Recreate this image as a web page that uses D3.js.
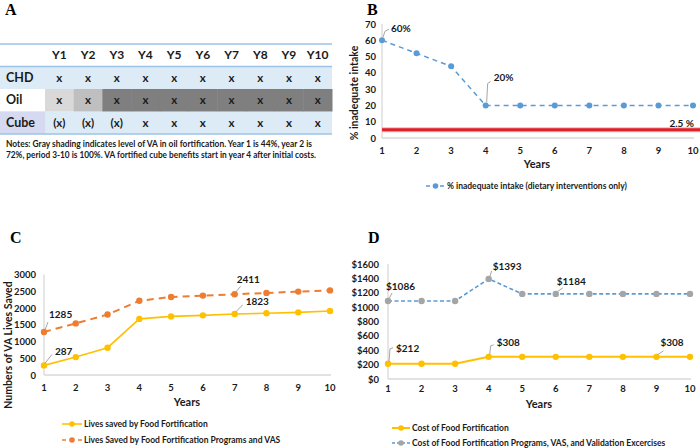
<!DOCTYPE html>
<html><head><meta charset="utf-8">
<script src="https://cdn.jsdelivr.net/npm/d3@7"></script>
<style>
body{margin:0;background:#fff}
svg{display:block;font-family:Lato,"Open Sans",sans-serif;font-weight:bold}
</style>
</head><body>
<svg id="c" width="700" height="448"></svg>
<script>
// ---------- DATA ----------
const years = [1,2,3,4,5,6,7,8,9,10];
const tableCols = ["Y1","Y2","Y3","Y4","Y5","Y6","Y7","Y8","Y9","Y10"];
const tableRows = ["CHD","Oil","Cube"];
const chdMarks  = ["x","x","x","x","x","x","x","x","x","x"];
const oilMarks  = ["x","x","x","x","x","x","x","x","x","x"];
const cubeMarks = ["(x)","(x)","(x)","x","x","x","x","x","x","x"];
const oilVAPct  = [44,72,100,100,100,100,100,100,100,100];
const notesLines = [
  "Notes: Gray shading indicates level of VA in oil fortification. Year 1 is 44%, year 2 is",
  "72%, period 3-10  is 100%. VA fortified cube benefits start in year 4 after initial costs."
];

const inadequateIntake = [60,52,44,20,20,20,20,20,20,20];
const thresholdValue = 5;
const thresholdLabel = "2.5 %";
const bTicks = [0,10,20,30,40,50,60,70];

const livesFF  = [287,535,815,1675,1750,1780,1823,1845,1870,1910];
const livesVAS = [1285,1540,1805,2215,2330,2370,2411,2450,2490,2525];
const cTicks = [0,500,1000,1500,2000,2500,3000];

const costFF  = [212,212,212,308,308,308,308,308,308,308];
const costAll = [1086,1086,1086,1393,1184,1184,1184,1184,1184,1184];
const dTicks = [0,200,400,600,800,1000,1200,1400,1600];

const YELLOW="#FFC000", ORANGE="#ED7D31", BLUE="#5B9BD5", GRAY="#A5A5A5", RED="#E0202A";
const AXIS="#D9D9D9", LEADER="#A6A6A6", TXT="#1a1a1a";

const svg = d3.select("#c");

// panel letters
const letters = [["A",5,15],["B",367,15],["C",10,243],["D",368,243]];
svg.selectAll("text.letter").data(letters).enter().append("text")
  .attr("class","letter").attr("x",d=>d[1]).attr("y",d=>d[2])
  .style("font-family","'Liberation Serif','DejaVu Serif',serif").style("font-size","16px")
  .style("font-weight","bold").text(d=>d[0]);

// ---------- PANEL A : table ----------
(function(){
  const g = svg.append("g");
  const col = d3.scaleBand().domain(tableCols).range([45,332]);
  const row = d3.scaleBand().domain(["head"].concat(tableRows)).range([44,134]);
  const shade = d3.scaleLinear().domain([44,72,100]).range(["#D9D9D9","#BFBFBF","#7F7F7F"]);
  const rowsData = [["CHD",chdMarks],["Oil",oilMarks],["Cube",cubeMarks]];
  g.append("rect").attr("x",0).attr("width",332).attr("y",row("CHD")).attr("height",row.bandwidth()).attr("fill","#DDEBF7");
  g.append("rect").attr("x",0).attr("width",332).attr("y",row("Cube")).attr("height",row.bandwidth()).attr("fill","#DDEBF7");
  g.append("rect").attr("x",0).attr("width",45).attr("y",row("Cube")).attr("height",row.bandwidth()).attr("fill","#D5DAF0");
  g.selectAll("rect.oil").data(oilVAPct).enter().append("rect").attr("class","oil")
    .attr("x",(d,i)=>col(tableCols[i])).attr("width",col.bandwidth()+0.5)
    .attr("y",row("Oil")).attr("height",row.bandwidth()).attr("fill",d=>shade(d));
  [44, row("CHD"), 134].forEach(y=>g.append("line").attr("x1",0).attr("x2",332).attr("y1",y).attr("y2",y)
     .attr("stroke","#9DC3E6").attr("stroke-width",1.5));
  g.selectAll("text.h").data(tableCols).enter().append("text").attr("class","h")
    .attr("x",d=>col(d)+col.bandwidth()/2).attr("y",row("head")+row.bandwidth()/2+4)
    .attr("text-anchor","middle").style("font-size","12px").attr("fill",TXT).text(d=>d);
  rowsData.forEach(([name,marks])=>{
    const cy = row(name)+row.bandwidth()/2+4;
    g.append("text").attr("x",6).attr("y",cy).style("font-size","12.5px").attr("fill",TXT).text(name);
    g.selectAll(null).data(marks).enter().append("text")
      .attr("x",(d,i)=>col(tableCols[i])+col.bandwidth()/2).attr("y",cy)
      .attr("text-anchor","middle").style("font-size","11.5px").attr("fill",TXT).text(d=>d);
  });
  g.selectAll("text.n").data(notesLines).enter().append("text").attr("class","n")
    .attr("x",6).attr("y",(d,i)=>147+i*10.5).style("font-size","9px").attr("fill",TXT)
    .attr("textLength",(d,i)=>i?310:306).attr("lengthAdjust","spacingAndGlyphs").text(d=>d);
})();

// ---------- helpers ----------
function axes(g, x, y, ticks, fmt, tickOff, xLabelY){
  const [x0,x1]=x.range(), [y0,y1]=y.range();
  g.append("line").attr("x1",x0).attr("x2",x1+1).attr("y1",y0).attr("y2",y0).attr("stroke",AXIS).attr("stroke-width",1.3);
  g.append("line").attr("x1",x0).attr("x2",x0).attr("y1",y0).attr("y2",y1).attr("stroke",AXIS).attr("stroke-width",1.3);
  g.selectAll(null).data(ticks).enter().append("text")
    .attr("x",x0-tickOff).attr("y",d=>y(d)+3.5).attr("text-anchor","end")
    .style("font-size","9.5px").attr("fill",TXT).text(fmt);
  g.selectAll(null).data(years).enter().append("text")
    .attr("x",d=>x(d)).attr("y",xLabelY).attr("text-anchor","middle")
    .style("font-size","9.5px").attr("fill",TXT).text(d=>d);
}
function series(g, x, y, vals, color, width, dash, markColor, r){
  const line = d3.line().x((d,i)=>x(years[i])).y(d=>y(d));
  g.append("path").attr("d",line(vals)).attr("fill","none").attr("stroke",color)
    .attr("stroke-width",width).attr("stroke-dasharray",dash||null);
  g.selectAll(null).data(vals).enter().append("circle")
    .attr("cx",(d,i)=>x(years[i])).attr("cy",d=>y(d)).attr("r",r).attr("fill",markColor);
}
function annot(g, px, py, pts, label, lx, ly){
  g.append("polyline").attr("points",pts.map(p=>[px+p[0],py+p[1]].join(",")).join(" "))
    .attr("fill","none").attr("stroke",LEADER).attr("stroke-width",1);
  g.append("text").attr("x",px+lx).attr("y",py+ly).style("font-size","10px").attr("fill",TXT).text(label);
}
function legendItem(g, x0, x1, y, color, width, dash, markColor, r, label){
  g.append("line").attr("x1",x0).attr("x2",x1).attr("y1",y).attr("y2",y).attr("stroke",color)
    .attr("stroke-width",width).attr("stroke-dasharray",dash||null);
  g.append("circle").attr("cx",(x0+x1)/2).attr("cy",y).attr("r",r).attr("fill",markColor);
  g.append("text").attr("x",x1+2).attr("y",y+3).style("font-size","8.5px").attr("fill",TXT).text(label);
}

// ---------- PANEL B ----------
(function(){
  const g = svg.append("g");
  const x = d3.scaleLinear().domain([1,10]).range([382,693]);
  const y = d3.scaleLinear().domain([0,70]).range([138,24]);
  axes(g,x,y,bTicks,d=>d,6,154);
  g.append("line").attr("x1",x(1)).attr("x2",700).attr("y1",y(thresholdValue)).attr("y2",y(thresholdValue))
    .attr("stroke","#F4B6B8").attr("stroke-width",5);
  g.append("line").attr("x1",x(1)).attr("x2",700).attr("y1",y(thresholdValue)).attr("y2",y(thresholdValue))
    .attr("stroke",RED).attr("stroke-width",3);
  g.append("text").attr("x",694).attr("y",y(thresholdValue)-3).attr("text-anchor","end")
    .style("font-size","10px").attr("fill",TXT).text(thresholdLabel);
  series(g,x,y,inadequateIntake,BLUE,1.5,"5,4",BLUE,3);
  annot(g,x(1),y(inadequateIntake[0]),[[1,-3],[3,-9],[7,-11]],inadequateIntake[0]+"%",9,-8);
  annot(g,x(4),y(inadequateIntake[3]),[[1,-3],[2,-22],[5,-24]],inadequateIntake[3]+"%",8,-24);
  g.append("text").attr("x",537).attr("y",168).attr("text-anchor","middle").style("font-size","11px").attr("fill",TXT).text("Years");
  g.append("text").attr("transform","translate(358,93) rotate(-90)").attr("text-anchor","middle")
    .style("font-size","10.5px").attr("fill",TXT).text("% inadequate intake");
  legendItem(g,426,445,186,BLUE,1.5,"4,3",BLUE,2.8,"% inadequate intake (dietary interventions only)");
})();

// ---------- PANEL C ----------
(function(){
  const g = svg.append("g");
  const x = d3.scaleLinear().domain([1,10]).range([44,330]);
  const y = d3.scaleLinear().domain([0,3000]).range([375,274.5]);
  axes(g,x,y,cTicks,d=>d,8,391);
  series(g,x,y,livesVAS,ORANGE,2,"7,5",ORANGE,3.2);
  series(g,x,y,livesFF,YELLOW,1.6,null,YELLOW,3.2);
  annot(g,x(1),y(livesVAS[0]),[[1,-2],[4,-10]],livesVAS[0],5,-14);
  annot(g,x(1),y(livesFF[0]),[[1,-2],[8,-11]],livesFF[0],11,-10);
  annot(g,x(7),y(livesVAS[6]),[[1,-2],[6,-8]],livesVAS[6],2,-11);
  annot(g,x(7),y(livesFF[6]),[[1,-2],[8,-9]],livesFF[6],11,-9);
  g.append("text").attr("x",187).attr("y",406).attr("text-anchor","middle").style("font-size","11px").attr("fill",TXT).text("Years");
  g.append("text").attr("transform","translate(12,345) rotate(-90)").attr("text-anchor","middle")
    .style("font-size","10.5px").attr("fill",TXT).text("Numbers of VA Lives Saved");
  legendItem(g,62,82,424,YELLOW,1.6,null,YELLOW,2.8,"Lives saved by Food Fortification");
  legendItem(g,62,82,440,ORANGE,1.6,"4,4",ORANGE,2.8,"Lives Saved by Food Fortification Programs and VAS");
})();

// ---------- PANEL D ----------
(function(){
  const g = svg.append("g");
  const x = d3.scaleLinear().domain([1,10]).range([388,690]);
  const y = d3.scaleLinear().domain([0,1600]).range([379,264]);
  axes(g,x,y,dTicks,d=>"$"+d,9,392);
  series(g,x,y,costAll,BLUE,1.6,"4,2.5",GRAY,3.2);
  series(g,x,y,costFF,YELLOW,2,null,YELLOW,3.2);
  annot(g,x(1),y(costAll[0]),[[1,-2],[4,-8]],"$"+costAll[0],-2,-11);
  annot(g,x(4),y(costAll[3]),[[1,-2],[3,-8]],"$"+costAll[3],4,-9);
  annot(g,x(6),y(costAll[5]),[[1,-2],[7,-6]],"$"+costAll[5],1,-9);
  annot(g,x(1),y(costFF[0]),[[1,-2],[2,-15],[5,-16]],"$"+costFF[0],8,-12);
  annot(g,x(4),y(costFF[3]),[[1,-2],[2,-11],[5,-12]],"$"+costFF[3],8,-11);
  annot(g,x(9),y(costFF[8]),[[1,-2],[7,-6]],"$"+costFF[8],4,-11);
  g.append("text").attr("x",539).attr("y",408).attr("text-anchor","middle").style("font-size","11px").attr("fill",TXT).text("Years");
  legendItem(g,392,410,428,YELLOW,2,null,YELLOW,2.8,"Cost of Food Fortification");
  legendItem(g,392,410,443,BLUE,1.3,"3,2",GRAY,2.8,"Cost of Food Fortification Programs, VAS, and Validation Excercises");
})();
</script>
</body></html>
